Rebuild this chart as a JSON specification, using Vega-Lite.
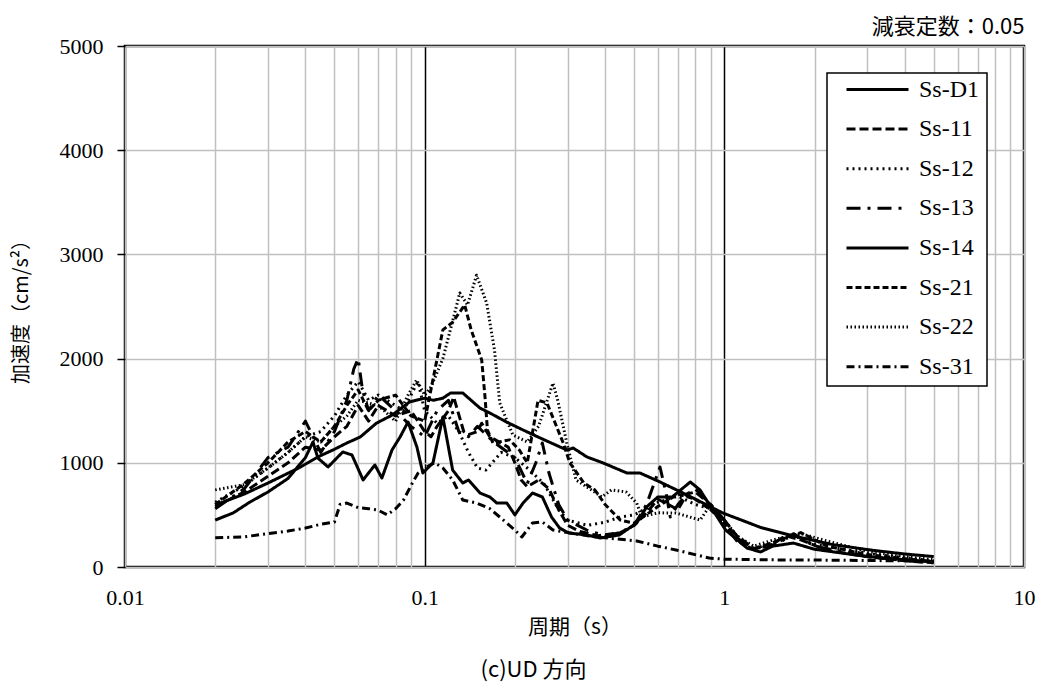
{
"$schema": "https://vega.github.io/schema/vega-lite/v6.json",
"width": 899, "height": 521,
"autosize": {"type": "none"},
"padding": {"left": 125, "top": 46, "right": 22, "bottom": 128},
"background": "white",
"title": {"text": "(c)UD 方向", "orient": "bottom", "anchor": "middle", "frame": "group", "dx": -41, "offset": 23, "font": "Noto Sans CJK JP", "fontSize": 22, "fontWeight": "normal", "color": "black"},
"datasets": {"d": [
{"s":"Ss-D1","T":0.02,"A":595},{"s":"Ss-D1","T":0.025,"A":700},{"s":"Ss-D1","T":0.03,"A":806},{"s":"Ss-D1","T":0.035,"A":900},{"s":"Ss-D1","T":0.038,"A":950},{"s":"Ss-D1","T":0.044,"A":1056},{"s":"Ss-D1","T":0.05,"A":1130},{"s":"Ss-D1","T":0.055,"A":1190},{"s":"Ss-D1","T":0.061,"A":1248},{"s":"Ss-D1","T":0.069,"A":1380},{"s":"Ss-D1","T":0.078,"A":1459},{"s":"Ss-D1","T":0.089,"A":1584},{"s":"Ss-D1","T":0.1,"A":1620},{"s":"Ss-D1","T":0.107,"A":1600},{"s":"Ss-D1","T":0.115,"A":1620},{"s":"Ss-D1","T":0.122,"A":1670},{"s":"Ss-D1","T":0.134,"A":1670},{"s":"Ss-D1","T":0.153,"A":1525},{"s":"Ss-D1","T":0.165,"A":1478},{"s":"Ss-D1","T":0.188,"A":1390},{"s":"Ss-D1","T":0.213,"A":1315},{"s":"Ss-D1","T":0.243,"A":1238},{"s":"Ss-D1","T":0.298,"A":1123},{"s":"Ss-D1","T":0.313,"A":1142},{"s":"Ss-D1","T":0.348,"A":1056},{"s":"Ss-D1","T":0.393,"A":1000},{"s":"Ss-D1","T":0.473,"A":902},{"s":"Ss-D1","T":0.523,"A":902},{"s":"Ss-D1","T":0.61,"A":816},{"s":"Ss-D1","T":0.728,"A":710},{"s":"Ss-D1","T":0.849,"A":614},{"s":"Ss-D1","T":0.989,"A":518},{"s":"Ss-D1","T":1.19,"A":430},{"s":"Ss-D1","T":1.32,"A":380},{"s":"Ss-D1","T":1.69,"A":300},{"s":"Ss-D1","T":2.3,"A":215},{"s":"Ss-D1","T":3.13,"A":160},{"s":"Ss-D1","T":4.0,"A":125},{"s":"Ss-D1","T":5.0,"A":100},
{"s":"Ss-11","T":0.02,"A":580},{"s":"Ss-11","T":0.025,"A":720},{"s":"Ss-11","T":0.03,"A":870},{"s":"Ss-11","T":0.035,"A":1000},{"s":"Ss-11","T":0.04,"A":1150},{"s":"Ss-11","T":0.045,"A":1120},{"s":"Ss-11","T":0.05,"A":1250},{"s":"Ss-11","T":0.055,"A":1350},{"s":"Ss-11","T":0.06,"A":1550},{"s":"Ss-11","T":0.065,"A":1400},{"s":"Ss-11","T":0.07,"A":1550},{"s":"Ss-11","T":0.08,"A":1450},{"s":"Ss-11","T":0.09,"A":1500},{"s":"Ss-11","T":0.1,"A":1300},{"s":"Ss-11","T":0.105,"A":1250},{"s":"Ss-11","T":0.11,"A":1350},{"s":"Ss-11","T":0.12,"A":1500},{"s":"Ss-11","T":0.125,"A":1630},{"s":"Ss-11","T":0.135,"A":1300},{"s":"Ss-11","T":0.14,"A":1270},{"s":"Ss-11","T":0.15,"A":1300},{"s":"Ss-11","T":0.155,"A":1380},{"s":"Ss-11","T":0.165,"A":1250},{"s":"Ss-11","T":0.19,"A":1150},{"s":"Ss-11","T":0.2,"A":1000},{"s":"Ss-11","T":0.21,"A":835},{"s":"Ss-11","T":0.22,"A":770},{"s":"Ss-11","T":0.24,"A":835},{"s":"Ss-11","T":0.26,"A":750},{"s":"Ss-11","T":0.28,"A":550},{"s":"Ss-11","T":0.3,"A":400},{"s":"Ss-11","T":0.33,"A":340},{"s":"Ss-11","T":0.38,"A":300},{"s":"Ss-11","T":0.45,"A":330},{"s":"Ss-11","T":0.5,"A":400},{"s":"Ss-11","T":0.55,"A":520},{"s":"Ss-11","T":0.6,"A":650},{"s":"Ss-11","T":0.65,"A":600},{"s":"Ss-11","T":0.7,"A":550},{"s":"Ss-11","T":0.75,"A":700},{"s":"Ss-11","T":0.8,"A":720},{"s":"Ss-11","T":0.9,"A":600},{"s":"Ss-11","T":1.0,"A":450},{"s":"Ss-11","T":1.1,"A":300},{"s":"Ss-11","T":1.25,"A":180},{"s":"Ss-11","T":1.4,"A":190},{"s":"Ss-11","T":1.6,"A":300},{"s":"Ss-11","T":1.8,"A":260},{"s":"Ss-11","T":2.2,"A":160},{"s":"Ss-11","T":3,"A":100},{"s":"Ss-11","T":4,"A":60},{"s":"Ss-11","T":5,"A":40},
{"s":"Ss-12","T":0.02,"A":620},{"s":"Ss-12","T":0.025,"A":780},{"s":"Ss-12","T":0.03,"A":950},{"s":"Ss-12","T":0.035,"A":1100},{"s":"Ss-12","T":0.04,"A":1250},{"s":"Ss-12","T":0.045,"A":1300},{"s":"Ss-12","T":0.05,"A":1450},{"s":"Ss-12","T":0.055,"A":1650},{"s":"Ss-12","T":0.06,"A":1780},{"s":"Ss-12","T":0.065,"A":1600},{"s":"Ss-12","T":0.07,"A":1650},{"s":"Ss-12","T":0.08,"A":1550},{"s":"Ss-12","T":0.085,"A":1500},{"s":"Ss-12","T":0.09,"A":1650},{"s":"Ss-12","T":0.095,"A":1780},{"s":"Ss-12","T":0.1,"A":1500},{"s":"Ss-12","T":0.11,"A":1380},{"s":"Ss-12","T":0.12,"A":1450},{"s":"Ss-12","T":0.13,"A":1300},{"s":"Ss-12","T":0.14,"A":1100},{"s":"Ss-12","T":0.15,"A":950},{"s":"Ss-12","T":0.16,"A":930},{"s":"Ss-12","T":0.18,"A":1100},{"s":"Ss-12","T":0.2,"A":1050},{"s":"Ss-12","T":0.22,"A":950},{"s":"Ss-12","T":0.25,"A":800},{"s":"Ss-12","T":0.28,"A":550},{"s":"Ss-12","T":0.3,"A":450},{"s":"Ss-12","T":0.35,"A":400},{"s":"Ss-12","T":0.4,"A":430},{"s":"Ss-12","T":0.45,"A":480},{"s":"Ss-12","T":0.5,"A":500},{"s":"Ss-12","T":0.6,"A":620},{"s":"Ss-12","T":0.7,"A":680},{"s":"Ss-12","T":0.8,"A":600},{"s":"Ss-12","T":0.9,"A":560},{"s":"Ss-12","T":1.0,"A":420},{"s":"Ss-12","T":1.1,"A":280},{"s":"Ss-12","T":1.25,"A":180},{"s":"Ss-12","T":1.5,"A":240},{"s":"Ss-12","T":1.7,"A":300},{"s":"Ss-12","T":2,"A":220},{"s":"Ss-12","T":3,"A":130},{"s":"Ss-12","T":4,"A":90},{"s":"Ss-12","T":5,"A":60},
{"s":"Ss-13","T":0.02,"A":560},{"s":"Ss-13","T":0.025,"A":750},{"s":"Ss-13","T":0.03,"A":1050},{"s":"Ss-13","T":0.035,"A":1150},{"s":"Ss-13","T":0.04,"A":1400},{"s":"Ss-13","T":0.045,"A":1100},{"s":"Ss-13","T":0.05,"A":1300},{"s":"Ss-13","T":0.055,"A":1600},{"s":"Ss-13","T":0.058,"A":1900},{"s":"Ss-13","T":0.06,"A":2000},{"s":"Ss-13","T":0.062,"A":1700},{"s":"Ss-13","T":0.065,"A":1500},{"s":"Ss-13","T":0.07,"A":1650},{"s":"Ss-13","T":0.08,"A":1500},{"s":"Ss-13","T":0.09,"A":1350},{"s":"Ss-13","T":0.1,"A":1250},{"s":"Ss-13","T":0.11,"A":1500},{"s":"Ss-13","T":0.12,"A":1600},{"s":"Ss-13","T":0.13,"A":1300},{"s":"Ss-13","T":0.14,"A":1250},{"s":"Ss-13","T":0.15,"A":1350},{"s":"Ss-13","T":0.17,"A":1200},{"s":"Ss-13","T":0.2,"A":1050},{"s":"Ss-13","T":0.22,"A":800},{"s":"Ss-13","T":0.235,"A":1000},{"s":"Ss-13","T":0.247,"A":1190},{"s":"Ss-13","T":0.26,"A":900},{"s":"Ss-13","T":0.28,"A":600},{"s":"Ss-13","T":0.3,"A":450},{"s":"Ss-13","T":0.35,"A":350},{"s":"Ss-13","T":0.4,"A":300},{"s":"Ss-13","T":0.45,"A":330},{"s":"Ss-13","T":0.5,"A":400},{"s":"Ss-13","T":0.55,"A":600},{"s":"Ss-13","T":0.61,"A":960},{"s":"Ss-13","T":0.64,"A":700},{"s":"Ss-13","T":0.66,"A":480},{"s":"Ss-13","T":0.7,"A":600},{"s":"Ss-13","T":0.75,"A":700},{"s":"Ss-13","T":0.8,"A":750},{"s":"Ss-13","T":0.9,"A":600},{"s":"Ss-13","T":1.0,"A":450},{"s":"Ss-13","T":1.1,"A":280},{"s":"Ss-13","T":1.25,"A":170},{"s":"Ss-13","T":1.5,"A":220},{"s":"Ss-13","T":1.7,"A":320},{"s":"Ss-13","T":2,"A":200},{"s":"Ss-13","T":3,"A":100},{"s":"Ss-13","T":4,"A":60},{"s":"Ss-13","T":5,"A":40},
{"s":"Ss-14","T":0.02,"A":450},{"s":"Ss-14","T":0.023,"A":520},{"s":"Ss-14","T":0.026,"A":620},{"s":"Ss-14","T":0.03,"A":720},{"s":"Ss-14","T":0.035,"A":850},{"s":"Ss-14","T":0.04,"A":1050},{"s":"Ss-14","T":0.0424,"A":1200},{"s":"Ss-14","T":0.044,"A":1046},{"s":"Ss-14","T":0.0476,"A":960},{"s":"Ss-14","T":0.0533,"A":1104},{"s":"Ss-14","T":0.0572,"A":1075},{"s":"Ss-14","T":0.0623,"A":835},{"s":"Ss-14","T":0.0682,"A":979},{"s":"Ss-14","T":0.072,"A":854},{"s":"Ss-14","T":0.0778,"A":1123},{"s":"Ss-14","T":0.0828,"A":1248},{"s":"Ss-14","T":0.088,"A":1392},{"s":"Ss-14","T":0.0942,"A":1152},{"s":"Ss-14","T":0.0986,"A":902},{"s":"Ss-14","T":0.1066,"A":1000},{"s":"Ss-14","T":0.115,"A":1440},{"s":"Ss-14","T":0.124,"A":930},{"s":"Ss-14","T":0.134,"A":806},{"s":"Ss-14","T":0.14,"A":835},{"s":"Ss-14","T":0.153,"A":710},{"s":"Ss-14","T":0.165,"A":672},{"s":"Ss-14","T":0.174,"A":614},{"s":"Ss-14","T":0.188,"A":614},{"s":"Ss-14","T":0.2,"A":500},{"s":"Ss-14","T":0.213,"A":614},{"s":"Ss-14","T":0.229,"A":710},{"s":"Ss-14","T":0.247,"A":672},{"s":"Ss-14","T":0.265,"A":480},{"s":"Ss-14","T":0.282,"A":374},{"s":"Ss-14","T":0.303,"A":326},{"s":"Ss-14","T":0.348,"A":307},{"s":"Ss-14","T":0.385,"A":278},{"s":"Ss-14","T":0.446,"A":307},{"s":"Ss-14","T":0.51,"A":422},{"s":"Ss-14","T":0.55,"A":576},{"s":"Ss-14","T":0.6,"A":672},{"s":"Ss-14","T":0.67,"A":672},{"s":"Ss-14","T":0.77,"A":816},{"s":"Ss-14","T":0.83,"A":739},{"s":"Ss-14","T":0.915,"A":547},{"s":"Ss-14","T":1.01,"A":355},{"s":"Ss-14","T":1.19,"A":182},{"s":"Ss-14","T":1.32,"A":144},{"s":"Ss-14","T":1.45,"A":200},{"s":"Ss-14","T":1.7,"A":230},{"s":"Ss-14","T":2.0,"A":170},{"s":"Ss-14","T":3,"A":100},{"s":"Ss-14","T":4,"A":70},{"s":"Ss-14","T":5,"A":50},
{"s":"Ss-21","T":0.02,"A":600},{"s":"Ss-21","T":0.025,"A":800},{"s":"Ss-21","T":0.03,"A":1000},{"s":"Ss-21","T":0.035,"A":1200},{"s":"Ss-21","T":0.04,"A":1300},{"s":"Ss-21","T":0.045,"A":1200},{"s":"Ss-21","T":0.05,"A":1350},{"s":"Ss-21","T":0.055,"A":1550},{"s":"Ss-21","T":0.06,"A":1700},{"s":"Ss-21","T":0.065,"A":1500},{"s":"Ss-21","T":0.07,"A":1600},{"s":"Ss-21","T":0.08,"A":1650},{"s":"Ss-21","T":0.09,"A":1450},{"s":"Ss-21","T":0.1,"A":1400},{"s":"Ss-21","T":0.107,"A":1823},{"s":"Ss-21","T":0.115,"A":2275},{"s":"Ss-21","T":0.124,"A":2350},{"s":"Ss-21","T":0.136,"A":2515},{"s":"Ss-21","T":0.143,"A":2275},{"s":"Ss-21","T":0.155,"A":1987},{"s":"Ss-21","T":0.159,"A":1630},{"s":"Ss-21","T":0.162,"A":1315},{"s":"Ss-21","T":0.169,"A":1190},{"s":"Ss-21","T":0.192,"A":1220},{"s":"Ss-21","T":0.207,"A":1123},{"s":"Ss-21","T":0.22,"A":1000},{"s":"Ss-21","T":0.239,"A":1600},{"s":"Ss-21","T":0.256,"A":1574},{"s":"Ss-21","T":0.29,"A":1190},{"s":"Ss-21","T":0.305,"A":1000},{"s":"Ss-21","T":0.34,"A":806},{"s":"Ss-21","T":0.37,"A":739},{"s":"Ss-21","T":0.4,"A":600},{"s":"Ss-21","T":0.45,"A":450},{"s":"Ss-21","T":0.5,"A":420},{"s":"Ss-21","T":0.6,"A":580},{"s":"Ss-21","T":0.7,"A":700},{"s":"Ss-21","T":0.8,"A":650},{"s":"Ss-21","T":0.9,"A":550},{"s":"Ss-21","T":1.0,"A":420},{"s":"Ss-21","T":1.1,"A":250},{"s":"Ss-21","T":1.25,"A":170},{"s":"Ss-21","T":1.5,"A":250},{"s":"Ss-21","T":1.8,"A":330},{"s":"Ss-21","T":2.2,"A":200},{"s":"Ss-21","T":3,"A":120},{"s":"Ss-21","T":4,"A":80},{"s":"Ss-21","T":5,"A":50},
{"s":"Ss-22","T":0.02,"A":740},{"s":"Ss-22","T":0.025,"A":790},{"s":"Ss-22","T":0.03,"A":950},{"s":"Ss-22","T":0.035,"A":1100},{"s":"Ss-22","T":0.04,"A":1250},{"s":"Ss-22","T":0.045,"A":1200},{"s":"Ss-22","T":0.05,"A":1350},{"s":"Ss-22","T":0.055,"A":1450},{"s":"Ss-22","T":0.06,"A":1600},{"s":"Ss-22","T":0.07,"A":1550},{"s":"Ss-22","T":0.08,"A":1400},{"s":"Ss-22","T":0.088,"A":1650},{"s":"Ss-22","T":0.094,"A":1795},{"s":"Ss-22","T":0.1,"A":1650},{"s":"Ss-22","T":0.105,"A":1727},{"s":"Ss-22","T":0.115,"A":2000},{"s":"Ss-22","T":0.125,"A":2400},{"s":"Ss-22","T":0.131,"A":2630},{"s":"Ss-22","T":0.139,"A":2515},{"s":"Ss-22","T":0.149,"A":2800},{"s":"Ss-22","T":0.161,"A":2534},{"s":"Ss-22","T":0.171,"A":2083},{"s":"Ss-22","T":0.178,"A":1574},{"s":"Ss-22","T":0.197,"A":1267},{"s":"Ss-22","T":0.22,"A":1200},{"s":"Ss-22","T":0.24,"A":1350},{"s":"Ss-22","T":0.268,"A":1765},{"s":"Ss-22","T":0.278,"A":1600},{"s":"Ss-22","T":0.298,"A":1190},{"s":"Ss-22","T":0.32,"A":835},{"s":"Ss-22","T":0.348,"A":768},{"s":"Ss-22","T":0.39,"A":672},{"s":"Ss-22","T":0.42,"A":739},{"s":"Ss-22","T":0.47,"A":720},{"s":"Ss-22","T":0.51,"A":614},{"s":"Ss-22","T":0.53,"A":480},{"s":"Ss-22","T":0.6,"A":520},{"s":"Ss-22","T":0.69,"A":518},{"s":"Ss-22","T":0.83,"A":451},{"s":"Ss-22","T":0.89,"A":576},{"s":"Ss-22","T":1.0,"A":450},{"s":"Ss-22","T":1.1,"A":300},{"s":"Ss-22","T":1.25,"A":200},{"s":"Ss-22","T":1.5,"A":270},{"s":"Ss-22","T":1.8,"A":320},{"s":"Ss-22","T":2.2,"A":250},{"s":"Ss-22","T":3,"A":150},{"s":"Ss-22","T":4,"A":100},{"s":"Ss-22","T":5,"A":70},
{"s":"Ss-31","T":0.02,"A":280},{"s":"Ss-31","T":0.025,"A":290},{"s":"Ss-31","T":0.03,"A":320},{"s":"Ss-31","T":0.035,"A":345},{"s":"Ss-31","T":0.04,"A":374},{"s":"Ss-31","T":0.045,"A":410},{"s":"Ss-31","T":0.05,"A":432},{"s":"Ss-31","T":0.0522,"A":600},{"s":"Ss-31","T":0.055,"A":614},{"s":"Ss-31","T":0.06,"A":570},{"s":"Ss-31","T":0.065,"A":560},{"s":"Ss-31","T":0.07,"A":545},{"s":"Ss-31","T":0.075,"A":500},{"s":"Ss-31","T":0.08,"A":560},{"s":"Ss-31","T":0.085,"A":643},{"s":"Ss-31","T":0.091,"A":806},{"s":"Ss-31","T":0.095,"A":900},{"s":"Ss-31","T":0.1,"A":950},{"s":"Ss-31","T":0.108,"A":1000},{"s":"Ss-31","T":0.115,"A":950},{"s":"Ss-31","T":0.124,"A":835},{"s":"Ss-31","T":0.134,"A":643},{"s":"Ss-31","T":0.149,"A":614},{"s":"Ss-31","T":0.165,"A":560},{"s":"Ss-31","T":0.178,"A":480},{"s":"Ss-31","T":0.2,"A":355},{"s":"Ss-31","T":0.211,"A":288},{"s":"Ss-31","T":0.229,"A":422},{"s":"Ss-31","T":0.247,"A":432},{"s":"Ss-31","T":0.268,"A":355},{"s":"Ss-31","T":0.3,"A":330},{"s":"Ss-31","T":0.35,"A":300},{"s":"Ss-31","T":0.4,"A":280},{"s":"Ss-31","T":0.51,"A":250},{"s":"Ss-31","T":0.6,"A":200},{"s":"Ss-31","T":0.69,"A":163},{"s":"Ss-31","T":0.89,"A":86},{"s":"Ss-31","T":1.0,"A":75},{"s":"Ss-31","T":1.5,"A":68},{"s":"Ss-31","T":2.0,"A":67},{"s":"Ss-31","T":3,"A":62},{"s":"Ss-31","T":5,"A":58}
]},
"data": {"name": "d"},
"layer": [
{
"mark": {"type": "line", "color": "black", "strokeCap": "butt", "strokeJoin": "round", "clip": true},
"encoding": {
"x": {"field": "T", "type": "quantitative", "scale": {"type": "log", "domain": [0.01, 10]},
"axis": {"values": [0.01,0.02,0.03,0.04,0.05,0.06,0.07,0.08,0.09,0.1,0.2,0.3,0.4,0.5,0.6,0.7,0.8,0.9,1,2,3,4,5,6,7,8,9,10],
"labelExpr": "datum.value==0.01?'0.01':datum.value==0.1?'0.1':datum.value==1?'1':datum.value==10?'10':''",
"labelFont": "Liberation Serif", "labelFontSize": 22, "labelColor": "black", "labelPadding": 20, "labelOverlap": false, "labelFlush": false, "labelBound": false,
"ticks": false, "tickSize": 0, "domain": false, "grid": true,
"gridColor": {"condition": {"test": "datum.value==0.1||datum.value==1", "value": "black"}, "value": "#c0c0c0"},
"gridWidth": 1.5,
"title": "周期（s）", "titleFont": "Noto Sans CJK JP", "titleFontSize": 21, "titleFontWeight": "normal", "titleColor": "black", "titlePadding": 8}},
"y": {"field": "A", "type": "quantitative", "scale": {"domain": [0, 5000]},
"axis": {"values": [0,1000,2000,3000,4000,5000], "format": "d", "labelFont": "Liberation Serif", "labelFontSize": 22, "labelColor": "black", "labelPadding": 14,
"ticks": true, "tickSize": 8, "tickColor": "black", "tickWidth": 1.5, "domain": false, "grid": true, "gridColor": "#c0c0c0", "gridWidth": 1.5,
"title": "加速度（cm/s²）", "titleFont": "Noto Sans CJK JP", "titleFontSize": 20, "titleFontWeight": "normal", "titleColor": "black", "titlePadding": 28}},
"strokeDash": {"field": "s", "type": "nominal", "title": null,
"scale": {"domain": ["Ss-D1","Ss-11","Ss-12","Ss-13","Ss-14","Ss-21","Ss-22","Ss-31"], "range": [[1,0],[9,4],[2,4],[14,7,3,7],[1,0],[6,3],[1.5,2.5],[8,4,2,4]]}},
"strokeWidth": {"field": "s", "type": "nominal", "title": null,
"scale": {"domain": ["Ss-D1","Ss-11","Ss-12","Ss-13","Ss-14","Ss-21","Ss-22","Ss-31"], "range": [3,3,2.5,3,1.5,1.5,1.2,1.5]}}
}
},
{
"mark": {"type": "point", "opacity": 0},
"encoding": {
"x": {"field": "T", "type": "quantitative", "scale": {"type": "log", "domain": [0.01, 10]},
"axis": {"orient": "top", "labels": false, "ticks": false, "domain": false, "grid": false,
"title": "減衰定数：0.05", "titleAnchor": "end", "titleFont": "Noto Sans CJK JP", "titleFontSize": 22, "titleFontWeight": "normal", "titleColor": "black", "titlePadding": 8}}
}
}
],
"resolve": {"axis": {"x": "independent"}},
"config": {
"view": {"stroke": "black", "strokeWidth": 2.5},
"legend": {"orient": "none", "legendX": 702, "legendY": 27, "fillColor": "white", "strokeColor": "black", "strokeWidth": 1.5, "padding": 7,
"symbolType": "stroke", "symbolSize": 3844, "symbolStrokeColor": "black", "symbolOffset": 11, "labelOffset": 9,
"labelFont": "Liberation Serif", "labelFontSize": 24, "labelColor": "black", "clipHeight": 19, "rowPadding": 14.6}
}
}
